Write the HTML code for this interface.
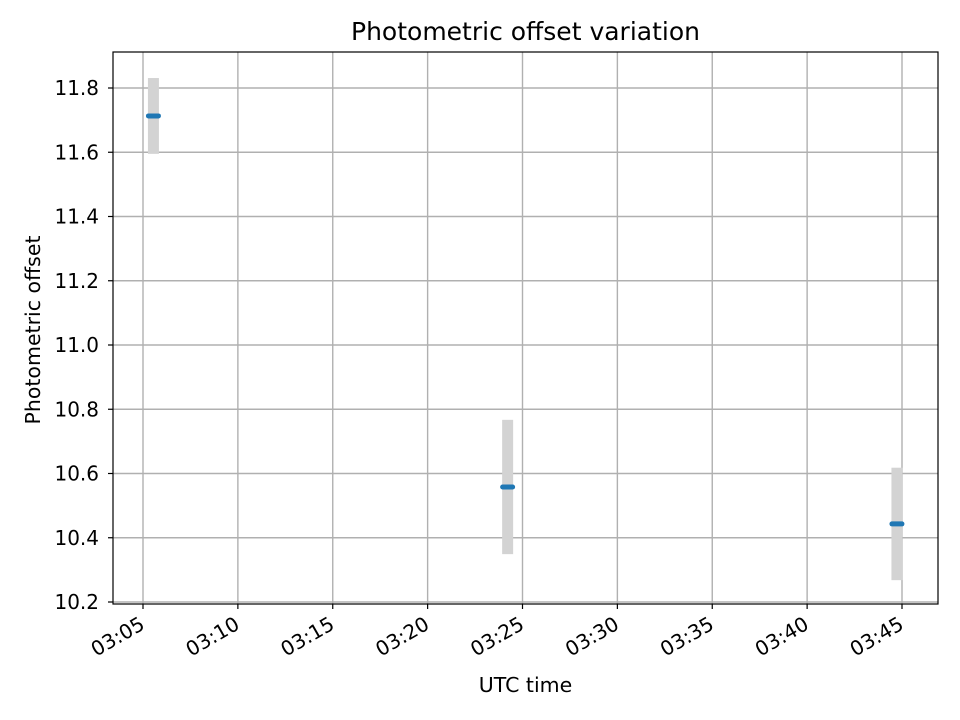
<!DOCTYPE html>
<html><head><meta charset="utf-8"><style>
body{margin:0;background:#fff;}
svg{display:block;font-family:"DejaVu Sans","Liberation Sans",sans-serif;}
</style></head><body>
<svg id="chart" width="960" height="720"></svg>
<script>
const times = ["03:05:33","03:24:13","03:44:44"];
const offsets = [11.713, 10.558, 10.443];
const errors = [0.118, 0.209, 0.175];
const yTicks = [10.2,10.4,10.6,10.8,11.0,11.2,11.4,11.6,11.8];
const xTickLabels = ["03:05","03:10","03:15","03:20","03:25","03:30","03:35","03:40","03:45"];

const L=113,R=938,T=52,B=604;
const NS="http://www.w3.org/2000/svg";
const svg=document.getElementById('chart');
function toMin(s){const p=s.split(':').map(Number);return p[0]*60+p[1]+(p[2]||0)/60;}
const x0=toMin("03:05"), pxPerMin=18.975;
function xs(m){return 143+(m-x0)*pxPerMin;}
function ys(v){return 602-(v-10.2)*321.25;}
function el(tag,attrs,parent){const e=document.createElementNS(NS,tag);for(const k in attrs)e.setAttribute(k,attrs[k]);(parent||svg).appendChild(e);return e;}

yTicks.forEach(v=>{
  const g=el('line',{x1:L,x2:R,y1:ys(v),y2:ys(v),stroke:'#b0b0b0','stroke-width':1.4});
  
  
  el('line',{x1:L-5,x2:L,y1:ys(v),y2:ys(v),stroke:'#000','stroke-width':1.2});
  const t=el('text',{x:L-14,y:ys(v)+7,'text-anchor':'end','font-size':20,fill:'#000'});
  t.textContent=v.toFixed(1);
  
  
});
xTickLabels.forEach(lbl=>{
  const x=xs(toMin(lbl));
  const g=el('line',{x1:x,x2:x,y1:T,y2:B,stroke:'#b0b0b0','stroke-width':1.4});
  
  
  el('line',{x1:x,x2:x,y1:B,y2:B+5,stroke:'#000','stroke-width':1.2});
  const t=el('text',{x:x+3,y:B+24,'text-anchor':'end','font-size':20,fill:'#000',transform:`rotate(-30 ${x+3} ${B+24})`});
  t.textContent=lbl;
  
  
});
times.forEach((tm,i)=>{
  const x=xs(toMin(tm));
  const r=el('rect',{x:x-5.5,y:ys(offsets[i]+errors[i]),width:11,height:ys(offsets[i]-errors[i])-ys(offsets[i]+errors[i]),fill:'#d3d3d3'});
  
  
  const p=el('line',{x1:x-5,x2:x+5,y1:ys(offsets[i]),y2:ys(offsets[i]),stroke:'#1f77b4','stroke-width':5,'stroke-linecap':'round'});
  
  
});
const frame=el('rect',{x:L,y:T,width:R-L,height:B-T,fill:'none',stroke:'#000','stroke-width':1.2});


const title=el('text',{x:(L+R)/2,y:40,'text-anchor':'middle','font-size':25,fill:'#000'});
title.textContent='Photometric offset variation';


const xt=el('text',{x:(L+R)/2,y:692,'text-anchor':'middle','font-size':20.5,fill:'#000'});
xt.textContent='UTC time';


const yt=el('text',{x:40,y:(T+B)/2+2,'text-anchor':'middle','font-size':20.5,fill:'#000',transform:`rotate(-90 40 ${(T+B)/2+2})`});
yt.textContent='Photometric offset';


</script>
</body></html>
